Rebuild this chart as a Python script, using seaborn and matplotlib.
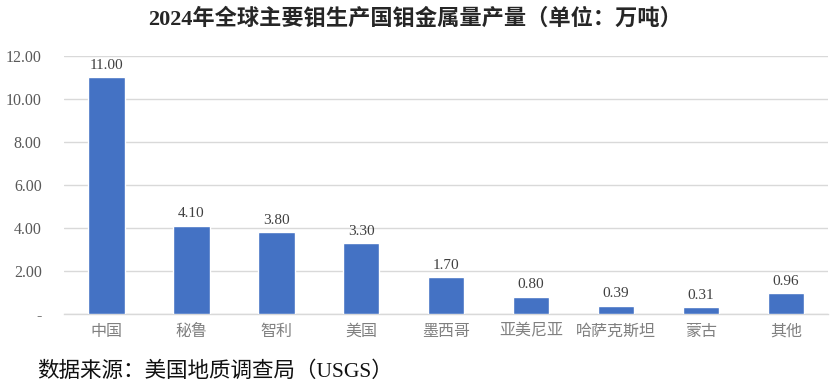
import matplotlib
matplotlib.use("Agg")
import matplotlib.pyplot as plt
import seaborn as sns
import pandas as pd

categories = ["中国", "秘鲁", "智利", "美国", "墨西哥", "亚美尼亚", "哈萨克斯坦", "蒙古", "其他"]
values = [11.00, 4.10, 3.80, 3.30, 1.70, 0.80, 0.39, 0.31, 0.96]
yticks = [0, 2, 4, 6, 8, 10, 12]
title = "2024年全球主要钼生产国钼金属量产量（单位：万吨）"
source = "数据来源：美国地质调查局（USGS）"

sns.set_theme(style="white")
FAM = ["Liberation Serif", "Noto Sans CJK SC", "DejaVu Sans"]
plt.rcParams["font.family"] = FAM

df = pd.DataFrame({"cat": categories, "val": values})

fig = plt.figure(figsize=(8.3, 3.88), dpi=100)
ax = fig.add_axes([0.077, 0.191, 0.921, 0.665])
sns.barplot(data=df, x="cat", y="val", color="#4472C4", saturation=1, width=0.43, ax=ax, zorder=3)

ax.set_ylim(0, 12)
ax.set_xlim(-0.5, len(categories) - 0.5)
ax.set_yticks(yticks)
ax.set_yticklabels(["-" if t == 0 else f"{t:.2f}" for t in yticks])
ax.yaxis.grid(True, color="#D9D9D9", linewidth=1, zorder=0)
for s in ["top", "right", "left"]:
    ax.spines[s].set_visible(False)
ax.spines["bottom"].set_color("#D9D9D9")
ax.spines["bottom"].set_linewidth(1)
ax.tick_params(axis="y", length=0, labelsize=11.5, colors="#595959", pad=16)
ax.tick_params(axis="x", length=0, labelsize=11.5, colors="#808080", pad=7)
ax.set_xlabel("")
ax.set_ylabel("")

for i, v in enumerate(values):
    ax.text(i, v + 0.25, f"{v:.2f}", ha="center", va="bottom", fontsize=11, color="#404040")

fig.text(0.5, 0.952, title, ha="center", va="center", fontsize=16, fontweight="bold", color="#262626")
fig.text(0.045, 0.043, source, ha="left", va="center", fontsize=15.5, color="#111111")

fig.savefig("out.png", dpi=100)
